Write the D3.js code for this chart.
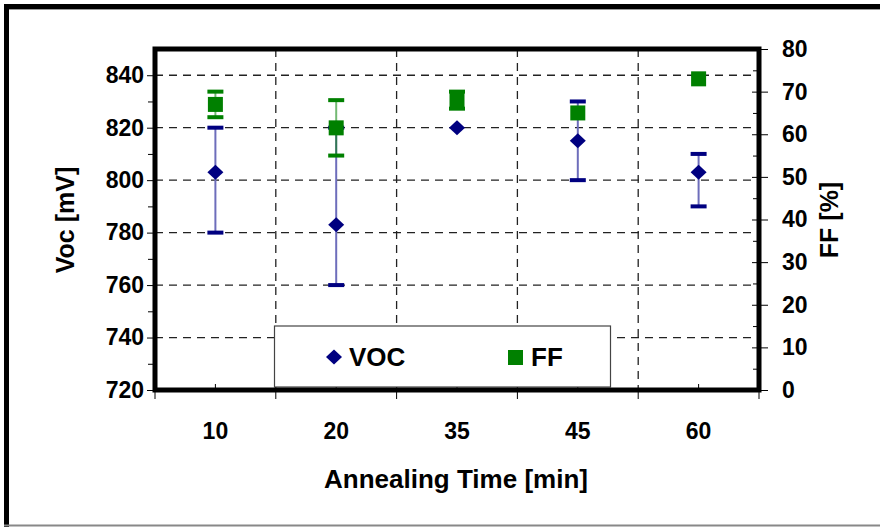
<!DOCTYPE html>
<html>
<head>
<meta charset="utf-8">
<script src="https://cdn.jsdelivr.net/npm/d3@7"></script>
<style>
  body { margin: 0; background: #fff; }
  svg text { font-family: "Liberation Sans", Arial, sans-serif; font-weight: bold; fill: #000; }
</style>
</head>
<body>
<div id="chart"></div>
<script>
// annealing times (categories)
var times = ["10", "20", "35", "45", "60"];

// open-circuit voltage [mV] with min / max
var vocMean = [803, 783, 820, 815, 803];
var vocLow  = [780, 760, 820, 800, 790];
var vocHigh = [820, 820, 820, 830, 810];

// fill factor [%] with min / max
var ffMean = [67, 61.5, 68, 65, 73];
var ffLow  = [64, 55, 66, 65, 73];
var ffHigh = [70, 68, 70, 65, 73];

var vocTicks = [720, 740, 760, 780, 800, 820, 840];
var ffTicks  = [0, 10, 20, 30, 40, 50, 60, 70, 80];

var W = 880, H = 527;
var L = 155, R = 759, T = 49, B = 390;

var svg = d3.select("#chart").append("svg")
    .attr("width", W)
    .attr("height", H);

// outer chart frame
svg.append("line").attr("x1", 4).attr("x2", W).attr("y1", 6.5).attr("y2", 6.5)
    .attr("stroke", "#000").attr("stroke-width", 5);
svg.append("line").attr("x1", 4).attr("x2", W).attr("y1", 9.5).attr("y2", 9.5)
    .attr("stroke", "#999").attr("stroke-width", 1);
svg.append("line").attr("x1", 6.5).attr("x2", 6.5).attr("y1", 4).attr("y2", H)
    .attr("stroke", "#000").attr("stroke-width", 5);
svg.append("line").attr("x1", 4).attr("x2", W).attr("y1", 525.5).attr("y2", 525.5)
    .attr("stroke", "#888").attr("stroke-width", 2);

var x = d3.scaleBand().domain(times).range([L, R]);
var yV = d3.scaleLinear().domain([720, 850]).range([B, T]);
var yF = d3.scaleLinear().domain([0, 80]).range([B, T]);

// dashed grid
var grid = svg.append("g").attr("stroke", "#222").attr("stroke-width", 1.3)
    .attr("stroke-dasharray", "8,6");
grid.selectAll("line.h").data(vocTicks.slice(1)).enter().append("line")
    .attr("x1", L).attr("x2", R)
    .attr("y1", function (d) { return yV(d); })
    .attr("y2", function (d) { return yV(d); });
grid.selectAll("line.v").data(times.slice(1)).enter().append("line")
    .attr("x1", function (d) { return x(d); })
    .attr("x2", function (d) { return x(d); })
    .attr("y1", T).attr("y2", B);

// left axis: Voc
var axL = svg.append("g").attr("transform", "translate(" + L + ",0)")
    .call(d3.axisLeft(yV).tickValues(vocTicks).tickSize(8).tickPadding(3));
axL.selectAll("text").style("font-size", "23px");
svg.append("g").attr("transform", "translate(" + L + ",0)")
    .call(d3.axisLeft(yV).tickValues(d3.range(730, 850, 20)).tickSize(7).tickFormat(""));

// right axis: FF
var axR = svg.append("g").attr("transform", "translate(" + R + ",0)")
    .call(d3.axisRight(yF).tickValues(ffTicks).tickSize(9).tickPadding(14));
axR.selectAll("text").style("font-size", "23px");
axR.selectAll(".tick line").attr("x1", -7);
svg.append("g").attr("transform", "translate(" + R + ",0)")
    .call(d3.axisLeft(yF).tickValues(d3.range(5, 80, 10)).tickSize(6).tickFormat(""));

// bottom axis: category labels, ticks at the band edges
var axB = svg.append("g").attr("transform", "translate(0," + B + ")")
    .call(d3.axisBottom(x).tickSize(0).tickPadding(33));
axB.selectAll("text").style("font-size", "23px");
svg.append("g").selectAll("line")
    .data(d3.range(0, times.length + 1)).enter().append("line")
    .attr("x1", function (i) { return L + i * x.bandwidth(); })
    .attr("x2", function (i) { return L + i * x.bandwidth(); })
    .attr("y1", B).attr("y2", B + 9)
    .attr("stroke", "#000").attr("stroke-width", 1);
svg.append("g").selectAll("line")
    .data(times).enter().append("line")
    .attr("x1", function (d) { return x(d) + x.bandwidth() / 2; })
    .attr("x2", function (d) { return x(d) + x.bandwidth() / 2; })
    .attr("y1", B - 6).attr("y2", B)
    .attr("stroke", "#000").attr("stroke-width", 1);
svg.selectAll(".domain").remove();

var cx = function (i) { return x(times[i]) + x.bandwidth() / 2; };

// error bars: light stem, solid caps
function errorBars(low, high, scale, stem, cap) {
    var g = svg.append("g");
    var idx = d3.range(times.length).filter(function (i) { return high[i] > low[i]; });
    g.selectAll("line.stem").data(idx).enter().append("line")
        .attr("x1", cx).attr("x2", cx)
        .attr("y1", function (i) { return scale(high[i]); })
        .attr("y2", function (i) { return scale(low[i]); })
        .attr("stroke", stem).attr("stroke-width", 2);
    [low, high].forEach(function (arr) {
        g.selectAll(null).data(idx).enter().append("rect")
            .attr("x", function (i) { return cx(i) - 8; })
            .attr("y", function (i) { return scale(arr[i]) - 2; })
            .attr("width", 16).attr("height", 4)
            .attr("fill", cap);
    });
}
errorBars(vocLow, vocHigh, yV, "#6d6dbb", "#000080");
errorBars(ffLow, ffHigh, yF, "rgba(0,128,0,0.55)", "#008000");

// markers
var diamond = "M0,-7.5L8,0L0,7.5L-8,0Z";
svg.append("g").selectAll("path").data(vocMean).enter().append("path")
    .attr("d", diamond)
    .attr("transform", function (d, i) { return "translate(" + cx(i) + "," + yV(d) + ")"; })
    .attr("fill", "#000080");
svg.append("g").selectAll("rect").data(ffMean).enter().append("rect")
    .attr("x", function (d, i) { return cx(i) - 7.5; })
    .attr("y", function (d) { return yF(d) - 7.5; })
    .attr("width", 15).attr("height", 15)
    .attr("fill", "#008000");

// legend
var lg = svg.append("g");
lg.append("rect").attr("x", 274.5).attr("y", 326).attr("width", 336).attr("height", 61)
    .attr("fill", "#fff").attr("stroke", "#444").attr("stroke-width", 1.2);
lg.append("path").attr("d", diamond).attr("transform", "translate(334,357)").attr("fill", "#000080");
lg.append("text").attr("x", 349).attr("y", 366).style("font-size", "26px").text("VOC");
lg.append("rect").attr("x", 508).attr("y", 350).attr("width", 15).attr("height", 15).attr("fill", "#008000");
lg.append("text").attr("x", 531).attr("y", 366).style("font-size", "26px").text("FF");

// plot frame
svg.append("rect").attr("x", L).attr("y", T).attr("width", R - L).attr("height", B - T)
    .attr("fill", "none").attr("stroke", "#000").attr("stroke-width", 5);

// axis titles
svg.append("text").attr("x", 456).attr("y", 488).attr("text-anchor", "middle")
    .style("font-size", "26px").text("Annealing Time [min]");
svg.append("text").attr("transform", "translate(74,220) rotate(-90)")
    .attr("text-anchor", "middle").style("font-size", "25px").text("Voc [mV]");
svg.append("text").attr("transform", "translate(838,220) rotate(-90)")
    .attr("text-anchor", "middle").style("font-size", "25px").text("FF [%]");
</script>
</body>
</html>
